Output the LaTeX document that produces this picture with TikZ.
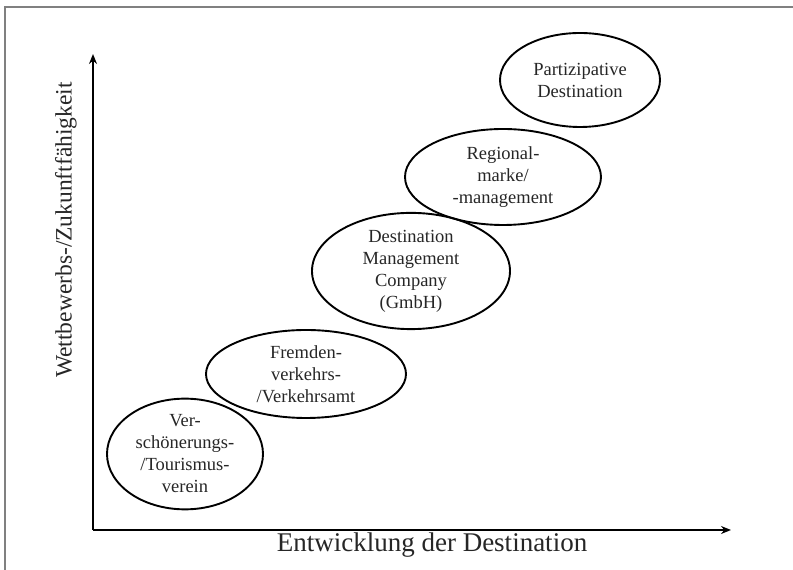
\documentclass[tikz,border=0pt]{standalone}
\usepackage{fontspec}
\setmainfont{Liberation Serif}
\usepackage{tikz}
\usetikzlibrary{shapes.geometric, positioning, arrows.meta}

\begin{document}
\begin{tikzpicture}[x=1pt, y=1pt, stage/.style={draw, ellipse, line width=1.9pt, inner sep=0pt, align=center, text=black!85, font=\fontsize{18.5}{22}\selectfont}, axis/.style={line width=1.8pt}, >={Stealth[length=10pt, width=8pt]}, node distance=100pt]
      \useasboundingbox (0,0) rectangle (793,570);
      \draw[gray, line width=1.2pt] (5,0) -- (5,563) -- (793,563);
      \coordinate (origin) at (93,40);
      \coordinate (ytip) at (93,516);
      \coordinate (xtip) at (731,40);
      \draw[axis, ->] (origin) -- (ytip);
      \draw[axis, ->] (origin) -- (xtip);
      \node[anchor=base, text=black!85, font=\fontsize{27}{30}\selectfont] (xlabel) at (432,18) {Entwicklung der Destination};
      \node[rotate=90, text=black!85, font=\fontsize{23.5}{28}\selectfont] (ylabel) at (66,340) {Wettbewerbs-/Zukunftfähigkeit};
      \node[stage, minimum width=156pt, minimum height=86pt] (verein) at (185,116) {Ver-\\schönerungs-\\/Tourismus-\\verein};
      \node[stage, minimum width=200pt, minimum height=88pt, right of=verein, xshift=21pt, yshift=80pt] (amt) {Fremden-\\verkehrs-\\/Verkehrsamt};
      \node[stage, minimum width=198pt, minimum height=94pt, right of=amt, xshift=5pt, yshift=103pt] (company) {Destination\\Management\\Company\\(GmbH)};
      \node[stage, minimum width=196pt, minimum height=96pt, right of=company, xshift=-8pt, yshift=94pt] (marke) {Regional-\\marke/\\-management};
      \node[stage, minimum width=160pt, minimum height=94pt, right of=marke, xshift=-23pt, yshift=97pt] (partizip) {Partizipative\\Destination};
    \end{tikzpicture}
\end{document}
